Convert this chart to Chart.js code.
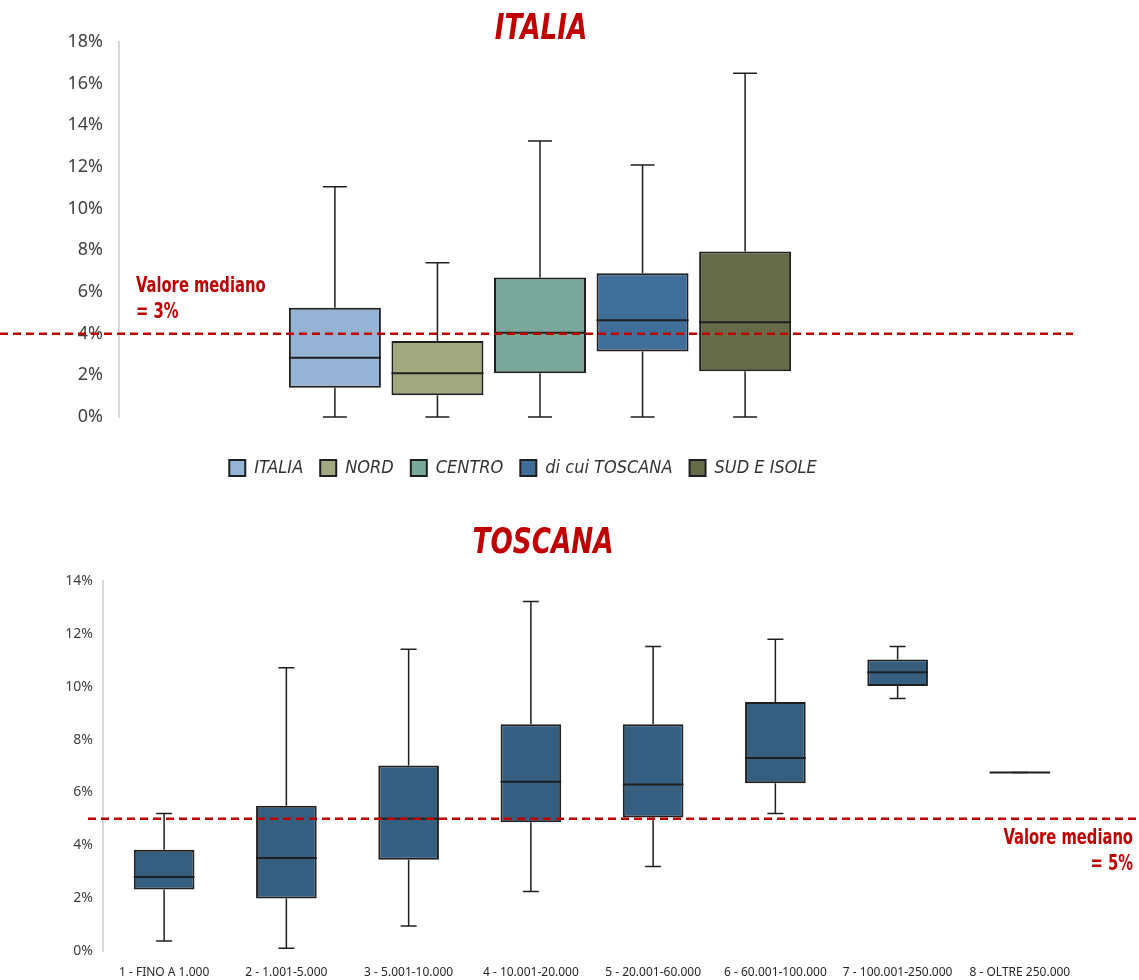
<!DOCTYPE html>
<html>
<head>
<meta charset="utf-8">
<script src="https://cdn.jsdelivr.net/npm/chart.js@4.4.1/dist/chart.umd.min.js"></script>
<style>
  body { margin: 0; background: #fff; width: 1139px; height: 980px; position: relative; overflow: hidden; }
  .title {
    position: absolute; width: 300px; text-align: center; z-index: 2;
    font: italic bold 36px 'Liberation Sans Narrow', 'DejaVu Sans Condensed', sans-serif;
    color: #c00000; line-height: 37px;
    transform: scaleX(0.81);
  }
  .wrap { position: absolute; left: 0; width: 1139px; }
</style>
</head>
<body>
<div class="title" style="left:391px; top:8px;">ITALIA</div>
<div class="title" style="left:393px; top:522px;">TOSCANA</div>
<div class="wrap" style="top:0; height:500px;"><canvas id="topChart"></canvas></div>
<div class="wrap" style="top:490px; height:490px;"><canvas id="bottomChart"></canvas></div>
<script>
// Top chart: distribution by area
const AREAS = ["ITALIA", "NORD", "CENTRO", "di cui TOSCANA", "SUD E ISOLE"];
const AREA_MIN = [0, 0, 0, 0, 0];
const AREA_Q1 = [1.4, 1.05, 2.1, 3.15, 2.2];
const AREA_MEDIAN = [2.85, 2.1, 4.05, 4.65, 4.55];
const AREA_Q3 = [5.25, 3.65, 6.7, 6.9, 7.95];
const AREA_MAX = [11.05, 7.4, 13.25, 12.1, 16.5];
const AREA_COLORS = ["#95b3d2", "#a3a97f", "#7ba89b", "#3f6f98", "#666c47"];
const AREA_TICKS = [0, 2, 4, 6, 8, 10, 12, 14, 16, 18];
const AREA_REF = 4;
const AREA_REF_TEXT = ["Valore mediano", "= 3%"];

// Bottom chart: Toscana by population class
const CLASSES = [
  "1 - FINO A 1.000",
  "2 - 1.001-5.000",
  "3 - 5.001-10.000",
  "4 - 10.001-20.000",
  "5 - 20.001-60.000",
  "6 - 60.001-100.000",
  "7 - 100.001-250.000",
  "8 - OLTRE 250.000",
];
const CLASS_MIN = [0.38, 0.1, 0.95, 2.25, 3.2, 5.2, 9.55, 6.75];
const CLASS_Q1 = [2.33, 1.99, 3.45, 4.87, 5.05, 6.35, 10.03, 6.75];
const CLASS_MEDIAN = [2.8, 3.52, 5.0, 6.4, 6.3, 7.3, 10.55, 6.75];
const CLASS_Q3 = [3.83, 5.5, 7.02, 8.58, 8.58, 9.42, 11.03, 6.75];
const CLASS_MAX = [5.2, 10.72, 11.42, 13.22, 11.52, 11.8, 11.52, 6.75];
const CLASS_TICKS = [0, 2, 4, 6, 8, 10, 12, 14];
const CLASS_REF = 5;
const CLASS_REF_TEXT = ["Valore mediano", "= 5%"];

const NARROW = "'Liberation Sans Narrow', 'DejaVu Sans Condensed', sans-serif";
const RED = "#c00000";

// Whiskers, caps and median lines on top of floating bars
const boxPlotPlugin = {
  id: "boxPlot",
  afterDatasetsDraw(chart, args, opts) {
    const { ctx } = chart;
    const y = chart.scales.y;
    ctx.save();
    ctx.strokeStyle = "#1f1f1f";
    chart.data.datasets.forEach((ds, di) => {
      chart.getDatasetMeta(di).data.forEach((bar, i) => {
        const x = bar.x;
        const half = bar.width / 2;
        const yMin = y.getPixelForValue(ds.whiskerMin[i]);
        const yMax = y.getPixelForValue(ds.whiskerMax[i]);
        const yQ1 = y.getPixelForValue(ds.data[i][0]);
        const yQ3 = y.getPixelForValue(ds.data[i][1]);
        const yMed = y.getPixelForValue(ds.median[i]);
        ctx.lineWidth = 1.5;
        ctx.beginPath();
        ctx.moveTo(x, yQ3); ctx.lineTo(x, yMax);
        ctx.moveTo(x, yQ1); ctx.lineTo(x, yMin);
        ctx.moveTo(x - opts.cap / 2, yMax); ctx.lineTo(x + opts.cap / 2, yMax);
        ctx.moveTo(x - opts.cap / 2, yMin); ctx.lineTo(x + opts.cap / 2, yMin);
        ctx.stroke();
        ctx.lineWidth = 2;
        ctx.beginPath();
        ctx.moveTo(x - half, yMed); ctx.lineTo(x + half, yMed);
        ctx.stroke();
      });
    });
    ctx.restore();
  },
};

// Dashed median reference line with its label
const refLinePlugin = {
  id: "refLine",
  afterDraw(chart, args, opts) {
    const { ctx } = chart;
    const yPos = chart.scales.y.getPixelForValue(opts.value);
    ctx.save();
    ctx.strokeStyle = RED;
    ctx.lineWidth = 2.5;
    ctx.setLineDash([8, 5]);
    ctx.beginPath();
    ctx.moveTo(opts.from, yPos);
    ctx.lineTo(opts.to, yPos);
    ctx.stroke();
    ctx.setLineDash([]);
    ctx.fillStyle = RED;
    ctx.font = "bold 21px " + NARROW;
    ctx.textAlign = opts.align;
    ctx.textBaseline = "middle";
    opts.text.forEach((t, k) => {
      ctx.save();
      ctx.translate(opts.textX, yPos + opts.textDy + k * 26);
      ctx.scale(0.78, 1); // narrow the condensed face
      ctx.fillText(t, 0, 0);
      ctx.restore();
    });
    ctx.restore();
  },
};

// Nudge the legend a little left of the plot centre, as in the original
const legendShiftPlugin = {
  id: "legendShift",
  afterLayout(chart, args, opts) {
    if (!chart.legend) return;
    chart.legend.left -= opts.dx;
    chart.legend.right -= opts.dx;
  },
};

function pctTicks(values) {
  return (scale) => {
    scale.ticks = values.map((v) => ({ value: v }));
  };
}

// Top chart
new Chart(document.getElementById("topChart"), {
  type: "bar",
  data: {
    labels: [""],
    datasets: AREAS.map((name, i) => ({
      label: name,
      data: [[AREA_Q1[i], AREA_Q3[i]]],
      whiskerMin: [AREA_MIN[i]],
      whiskerMax: [AREA_MAX[i]],
      median: [AREA_MEDIAN[i]],
      backgroundColor: AREA_COLORS[i],
      borderColor: "#1f1f1f",
      borderWidth: 2,
      borderSkipped: false,
      categoryPercentage: 0.609,
      barPercentage: 0.897,
    })),
  },
  options: {
    responsive: true,
    maintainAspectRatio: false,
    animation: false,
    layout: { padding: { top: 42, right: 178, bottom: 13, left: 0 } },
    scales: {
      x: {
        grid: { display: false },
        border: { display: false },
        ticks: { display: false },
        afterFit: (s) => { s.height = 25; },
      },
      y: {
        min: 0,
        max: 18,
        afterBuildTicks: pctTicks(AREA_TICKS),
        afterFit: (s) => { s.width = 119; },
        grid: { display: false },
        border: { display: true, color: "#d9d9d9", width: 2 },
        ticks: {
          padding: 8,
          color: "#404040",
          font: { family: "'Noto Sans', sans-serif", size: 18 },
          callback: (v) => v + "%",
        },
      },
    },
    plugins: {
      legend: {
        position: "bottom",
        fullSize: false,
        labels: {
          boxWidth: 16,
          boxHeight: 16,
          padding: 17,
          color: "#333333",
          font: { family: NARROW, size: 18, style: "italic" },
        },
      },
      legendShift: { dx: 17 },
      tooltip: { enabled: false },
      boxPlot: { cap: 24 },
      refLine: {
        value: AREA_REF,
        from: 0,
        to: 1073,
        text: AREA_REF_TEXT,
        align: "left",
        textX: 136,
        textDy: -47,
      },
    },
  },
  plugins: [boxPlotPlugin, refLinePlugin, legendShiftPlugin],
});

// Bottom chart
new Chart(document.getElementById("bottomChart"), {
  type: "bar",
  data: {
    labels: CLASSES,
    datasets: [
      {
        label: "TOSCANA",
        data: CLASSES.map((c, i) => [CLASS_Q1[i], CLASS_Q3[i]]),
        whiskerMin: CLASS_MIN,
        whiskerMax: CLASS_MAX,
        median: CLASS_MEDIAN,
        backgroundColor: "#365e7f",
        borderColor: "#1f1f1f",
        borderWidth: 2,
        borderSkipped: false,
        categoryPercentage: 0.62,
        barPercentage: 0.8,
      },
    ],
  },
  options: {
    responsive: true,
    maintainAspectRatio: false,
    animation: false,
    layout: { padding: { top: 91, right: 58, bottom: 0, left: 0 } },
    scales: {
      x: {
        grid: { display: false },
        border: { display: false },
        afterFit: (s) => { s.height = 29; },
        ticks: {
          autoSkip: false,
          maxRotation: 0,
          padding: 6,
          color: "#262626",
          font: { family: "'Noto Sans', sans-serif", size: 12 },
        },
      },
      y: {
        min: 0,
        max: 14,
        afterBuildTicks: pctTicks(CLASS_TICKS),
        afterFit: (s) => { s.width = 103; },
        grid: { display: false },
        border: { display: true, color: "#d9d9d9", width: 2 },
        ticks: {
          padding: 2,
          color: "#404040",
          font: { family: "'Noto Sans', sans-serif", size: 14 },
          callback: (v) => v + "%",
        },
      },
    },
    plugins: {
      legend: { display: false },
      tooltip: { enabled: false },
      boxPlot: { cap: 16 },
      refLine: {
        value: CLASS_REF,
        from: 88,
        to: 1139,
        text: CLASS_REF_TEXT,
        align: "right",
        textX: 1133,
        textDy: 20,
      },
    },
  },
  plugins: [boxPlotPlugin, refLinePlugin],
});
</script>
</body>
</html>
